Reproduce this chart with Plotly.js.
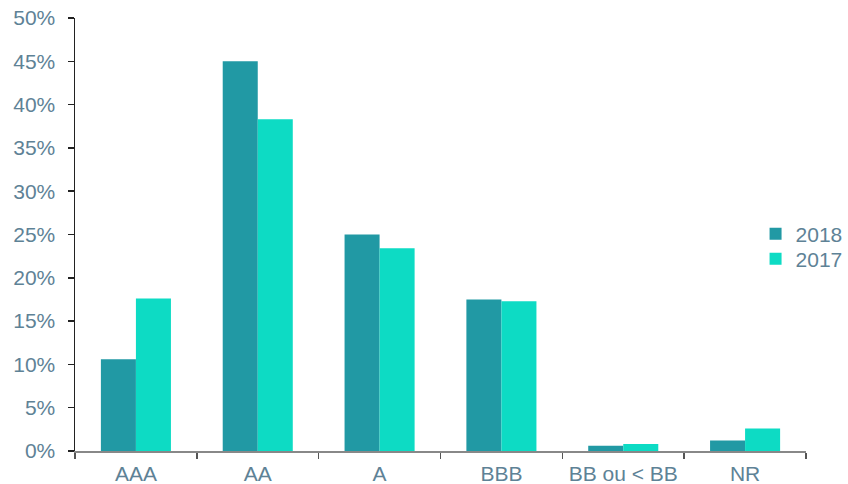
<!DOCTYPE html>
<html><head><meta charset="utf-8">
<script src="https://cdn.plot.ly/plotly-3.0.1.min.js"></script>
<style>body{margin:0;background:#fff}#c{width:848px;height:484px}</style>
</head><body><div id="c"></div>
<script>
var categories = ["AAA", "AA", "A", "BBB", "BB ou < BB", "NR"];
var values2018 = [10.6, 45.0, 25.0, 17.5, 0.6, 1.2];
var values2017 = [17.6, 38.3, 23.4, 17.3, 0.8, 2.6];
var yTickVals = [0, 5, 10, 15, 20, 25, 30, 35, 40, 45, 50];
var yTickText = ["0%", "5%", "10%", "15%", "20%", "25%", "30%", "35%", "40%", "45%", "50%"];

var labelColor = "#5E8296";
var data = [
  {type: "bar", name: "2018", x: categories, y: values2018, legend: "legend", marker: {color: "#2199A4", line: {width: 0}}},
  {type: "bar", name: "2017", x: categories, y: values2017, legend: "legend2", marker: {color: "#0DDBC4", line: {width: 0}}}
];
var legBase = {x: 0.931, xanchor: "left", yanchor: "middle", font: {size: 21, color: labelColor},
               itemwidth: 30, bgcolor: "rgba(0,0,0,0)"};
var layout = {
  width: 848, height: 484,
  margin: {l: 75, r: 42, t: 18, b: 33, autoexpand: false},
  paper_bgcolor: "#fff", plot_bgcolor: "#fff",
  font: {family: "Liberation Sans, Arial, sans-serif", size: 21, color: labelColor},
  barmode: "group", bargap: 0.425, bargroupgap: 0,
  showlegend: true,
  legend: Object.assign({}, legBase, {y: 0.501}),
  legend2: Object.assign({}, legBase, {y: 0.443}),
  xaxis: {type: "category", showgrid: false, showline: true, linecolor: "#888", linewidth: 1.5,
          ticks: "outside", tickson: "boundaries", ticklen: 6, tickcolor: "#555", tickwidth: 1.5,
          ticklabelstandoff: 3,
          tickfont: {size: 21, color: labelColor}, zeroline: false},
  yaxis: {range: [0, 50], tickvals: yTickVals, ticktext: yTickText, showgrid: false,
          showline: true, linecolor: "#222", linewidth: 1.5, ticks: "outside", ticklen: 6,
          tickcolor: "#222", tickwidth: 1.5, zeroline: false, ticklabelstandoff: 8,
          tickfont: {size: 21, color: labelColor}}
};
Plotly.newPlot("c", data, layout, {displayModeBar: false, staticPlot: true});
</script></body></html>
